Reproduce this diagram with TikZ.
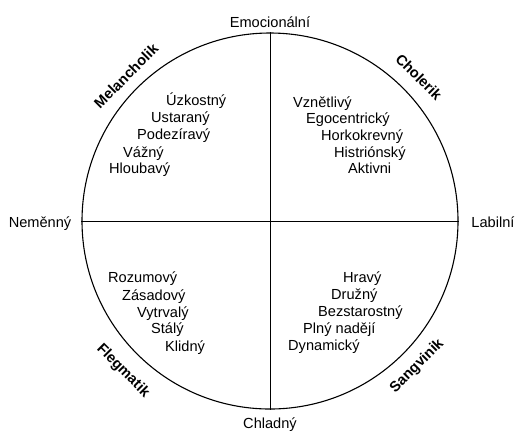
\documentclass[tikz,border=0pt]{standalone}
\usepackage{fontspec}
\setmainfont{Liberation Sans}
\begin{document}
\begin{tikzpicture}[x=1pt,y=-1pt,
  word/.style={anchor=base west,inner sep=0pt,font=\fontsize{14.6}{16}\selectfont},
  axis/.style={anchor=base,inner sep=0pt,font=\fontsize{14.6}{16}\selectfont},
  temper/.style={inner sep=0pt,font=\fontsize{14.6}{16}\selectfont\bfseries},
  ring/.style={circle,draw,line width=1.1pt,minimum size=376pt,inner sep=0pt},
  cross/.style={line width=0.9pt}]
\useasboundingbox (0,0) rectangle (516,432);
\node[ring] (c) at (270,221) {};
\draw[cross] (c.north) -- (c.south);
\draw[cross] (c.west) -- (c.east);
\node[axis] (emo) at (270,27) {Emocionální};
\node[axis] (chl) at (270,428) {Chladný};
\node[axis] (nem) at (40,227) {Neměnný};
\node[axis] (lab) at (493,227) {Labilní};
\node[temper,rotate=45] (mel) at (126,76) {Melancholik};
\node[temper,rotate=-45] (cho) at (419,77) {Cholerik};
\node[temper,rotate=-45] (fle) at (123,371) {Flegmatik};
\node[temper,rotate=45] (san) at (417,366) {Sangvinik};
% Melancholik
\node[word] (m1) at (166,105) {Úzkostný};
\node[word] (m2) at (151,122) {Ustaraný};
\node[word] (m3) at (137,139) {Podezíravý};
\node[word] (m4) at (123,157) {Vážný};
\node[word] (m5) at (109,173) {Hloubavý};
% Cholerik
\node[word] (h1) at (293,107) {Vznětlivý};
\node[word] (h2) at (306,123) {Egocentrický};
\node[word] (h3) at (321,140) {Horkokrevný};
\node[word] (h4) at (334,157) {Histriónský};
\node[word] (h5) at (348,173) {Aktivni};
% Flegmatik
\node[word] (f1) at (108,282) {Rozumový};
\node[word] (f2) at (122,300) {Zásadový};
\node[word] (f3) at (137,317) {Vytrvalý};
\node[word] (f4) at (151,333) {Stálý};
\node[word] (f5) at (165,351) {Klidný};
% Sangvinik
\node[word] (s1) at (343,282) {Hravý};
\node[word] (s2) at (331,299) {Družný};
\node[word] (s3) at (318,316) {Bezstarostný};
\node[word] (s4) at (303,333) {Plný nadějí};
\node[word] (s5) at (288,350) {Dynamický};
\end{tikzpicture}
\end{document}
